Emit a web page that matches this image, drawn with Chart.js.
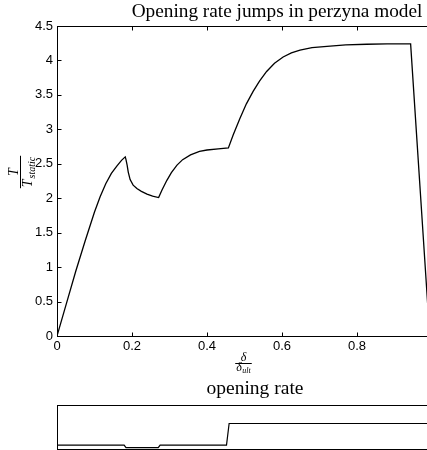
<!DOCTYPE html>
<html><head><meta charset="utf-8">
<script src="https://cdn.jsdelivr.net/npm/chart.js@4"></script>
<style>
html,body{margin:0;padding:0;background:#fff;overflow:hidden;width:427px;height:450px;}
#wrap{position:relative;width:427px;height:450px;overflow:hidden;background:#fff;}
canvas{position:absolute;left:0;}
#main{top:0}
#rate{top:380px}
</style></head><body>
<div id="wrap">
<canvas id="main" width="445" height="380"></canvas>
<canvas id="rate" width="445" height="80"></canvas>
</div>
<script>
// ---- data ----
const deltaRatio = [0,0.025,0.05,0.075,0.1,0.115,0.13,0.145,0.16,0.172,0.182,
  0.184,0.187,0.19,0.195,0.203,0.213,0.225,0.24,0.255,0.271,
  0.28,0.293,0.305,0.32,0.335,0.356,0.38,0.4,0.43,0.457,
  0.47,0.488,0.505,0.523,0.54,0.559,0.58,0.603,0.625,0.648,0.68,0.72,0.77,0.826,0.88,0.943,
  0.994];
const tractionRatio = [0,0.47,0.94,1.38,1.80,2.02,2.21,2.36,2.47,2.55,2.60,
  2.56,2.48,2.38,2.27,2.19,2.14,2.10,2.06,2.03,2.01,
  2.12,2.26,2.37,2.48,2.56,2.63,2.68,2.70,2.715,2.73,
  2.92,3.16,3.37,3.55,3.70,3.84,3.96,4.05,4.11,4.15,4.185,4.205,4.225,4.235,4.24,4.24,
  0];
const rateDelta = [0,0.179,0.184,0.27,0.275,0.452,0.459,1];
const rateLevel = [0.09,0.09,0.03,0.03,0.09,0.09,0.58,0.58];
const xTickValues = [0,0.2,0.4,0.6,0.8,1];
const xTickLabels = ['0','0.2','0.4','0.6','0.8','1'];
const yTickValues = [0,0.5,1,1.5,2,2.5,3,3.5,4,4.5];
const yTickLabels = ['0','0.5','1','1.5','2','2.5','3','3.5','4','4.5'];
const mainTitle = 'Opening rate jumps in perzyna model';
const rateTitle = 'opening rate';

const SERIF = '"Liberation Serif","DejaVu Serif",serif';
const SANS = '"Liberation Sans","DejaVu Sans",Arial,sans-serif';

function line(ctx,x1,y1,x2,y2){ctx.beginPath();ctx.moveTo(x1,y1);ctx.lineTo(x2,y2);ctx.stroke();}

const framePlugin = {
  id:'frame',
  afterDraw(chart, args, opts){
    const {ctx, chartArea:a} = chart;
    ctx.save();
    ctx.strokeStyle = '#000'; ctx.lineWidth = 1;
    const l = Math.round(a.left)+0.5, t = Math.round(a.top)+0.5,
          r = Math.round(a.right)+0.5, b = Math.round(a.bottom)+0.5;
    ctx.strokeRect(l, t, r-l, b-t);
    if (opts.ticks) {
      const L = 4;
      const xs = chart.scales.x, ys = chart.scales.y;
      xs.ticks.forEach(tk => { const p = Math.round(xs.getPixelForValue(tk.value))+0.5;
        line(ctx,p,b,p,b-L); line(ctx,p,t,p,t+L); });
      ys.ticks.forEach(tk => { const p = Math.round(ys.getPixelForValue(tk.value))+0.5;
        line(ctx,l,p,l+L,p); line(ctx,r,p,r-L,p); });
    }
    ctx.restore();
  }
};

function fitSize(ctx, text, family, style, targetW, base){
  ctx.font = `${style} ${base}px ${family}`;
  const w = ctx.measureText(text).width;
  return base*targetW/w;
}

const labelPlugin = {
  id:'labels',
  afterDraw(chart, args, opts){
    const ctx = chart.ctx;
    ctx.save();
    ctx.fillStyle = '#000'; ctx.strokeStyle = '#000';
    if (opts.title) {
      const tt = opts.title;
      let s = fitSize(ctx, tt.text, SERIF, '', tt.width, 18);
      s = Math.min(Math.max(s, 15), 20);
      ctx.font = `${s}px ${SERIF}`;
      ctx.textAlign = 'center'; ctx.textBaseline = 'alphabetic';
      ctx.fillText(tt.text, tt.x, tt.y);
    }
    if (opts.fractions) {
      // y label: T / T_static (rotated)
      ctx.save();
      ctx.translate(20.5, 172);
      ctx.rotate(-Math.PI/2);
      ctx.textBaseline = 'alphabetic';
      ctx.font = `italic 14px ${SERIF}`;
      const wT = ctx.measureText('T').width;
      ctx.font = `italic 10px ${SERIF}`;
      const wS = ctx.measureText('static').width;
      const den = wT + 1 + wS;
      ctx.lineWidth = 1;
      line(ctx, -den/2-1, 0, den/2+1, 0);
      ctx.font = `italic 14px ${SERIF}`;
      ctx.textAlign = 'center';
      ctx.fillText('T', 0, -2.5);
      ctx.textAlign = 'left';
      ctx.fillText('T', -den/2, 11);
      ctx.font = `italic 10px ${SERIF}`;
      ctx.fillText('static', -den/2 + wT + 1, 14);
      ctx.restore();
      // x label: delta / delta_ult
      ctx.save();
      const cx = 243.5, by = 363.5;
      ctx.font = `italic 12px ${SERIF}`;
      const wd = ctx.measureText('δ').width;
      ctx.font = `italic 8px ${SERIF}`;
      const wu = ctx.measureText('ult').width;
      const dw = wd + 0.5 + wu;
      ctx.lineWidth = 1;
      line(ctx, cx-dw/2-1, by, cx+dw/2+1, by);
      ctx.font = `italic 12px ${SERIF}`;
      ctx.textAlign = 'center'; ctx.textBaseline = 'alphabetic';
      ctx.fillText('δ', cx, by-2.5);
      ctx.textAlign = 'left';
      ctx.fillText('δ', cx-dw/2, by+7.5);
      ctx.font = `italic 8px ${SERIF}`;
      ctx.fillText('ult', cx-dw/2+wd+0.5, by+9.5);
      ctx.restore();
    }
    ctx.restore();
  }
};

Chart.defaults.animation = false;

new Chart(document.getElementById('main'), {
  type:'line',
  data:{ datasets:[{
    data: deltaRatio.map((x,i)=>({x, y:tractionRatio[i]})),
    borderColor:'#000', borderWidth:1.3, pointRadius:0, tension:0, fill:false
  }]},
  options:{
    responsive:false, devicePixelRatio:1, animation:false,
    layout:{ padding:{ left:0, right:13, top:26, bottom:0 } },
    plugins:{ legend:{display:false}, tooltip:{enabled:false}, title:{display:false},
      frame:{ ticks:true },
      labels:{ title:{ text:mainTitle, x:277, y:17, width:291 }, fractions:true } },
    scales:{
      x:{ type:'linear', min:0, max:1,
        afterBuildTicks: s => { s.ticks = xTickValues.map(v=>({value:v})); },
        afterFit: s => { s.height = 44; },
        grid:{ display:true, drawOnChartArea:false, drawTicks:false },
        border:{ display:false },
        ticks:{ color:'#000', font:{ family:SANS, size:13 }, padding:3, maxRotation:0,
          callback:(v,i)=>xTickLabels[i] } },
      y:{ type:'linear', min:0, max:4.5,
        afterBuildTicks: s => { s.ticks = yTickValues.map(v=>({value:v})); },
        afterFit: s => { s.width = 57; },
        grid:{ display:true, drawOnChartArea:false, drawTicks:false },
        border:{ display:false },
        ticks:{ color:'#000', font:{ family:SANS, size:13 }, padding:4,
          callback:(v,i)=>yTickLabels[i] } }
    }
  },
  plugins:[framePlugin, labelPlugin]
});

new Chart(document.getElementById('rate'), {
  type:'line',
  data:{ datasets:[{
    data: rateDelta.map((x,i)=>({x, y:rateLevel[i]})),
    borderColor:'#000', borderWidth:1.2, pointRadius:0, tension:0, fill:false
  }]},
  options:{
    responsive:false, devicePixelRatio:1, animation:false,
    layout:{ padding:{ left:57, right:13, top:25, bottom:11 } },
    plugins:{ legend:{display:false}, tooltip:{enabled:false}, title:{display:false},
      frame:{ ticks:false },
      labels:{ title:{ text:rateTitle, x:255, y:14, width:97 } } },
    scales:{
      x:{ type:'linear', min:0, max:1, display:false },
      y:{ type:'linear', min:0, max:1, display:false }
    }
  },
  plugins:[framePlugin, labelPlugin]
});
</script>
</body></html>
